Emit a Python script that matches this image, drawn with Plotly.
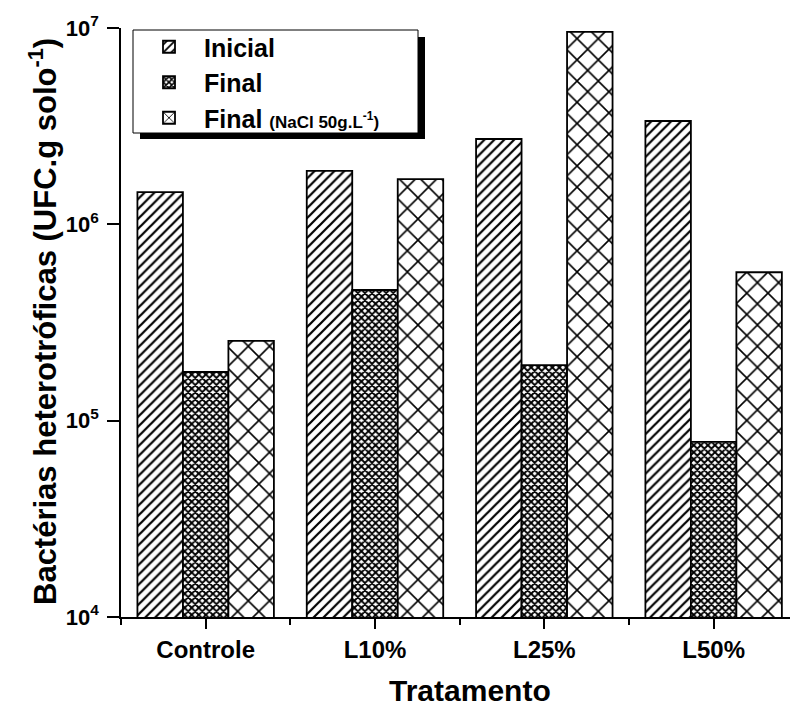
import plotly.graph_objects as go

# Heterotrophic bacteria counts (UFC per g of soil) by treatment
categories = ["Controle", "L10%", "L25%", "L50%"]
inicial = [1.46e6, 1.87e6, 2.72e6, 3.36e6]
final = [1.77e5, 4.63e5, 1.92e5, 7.8e4]
final_nacl = [2.55e5, 1.70e6, 9.55e6, 5.7e5]

y_tickvals = [1e4, 1e5, 1e6, 1e7]
y_ticktext = ["10<sup>4</sup>", "10<sup>5</sup>", "10<sup>6</sup>", "10<sup>7</sup>"]

W, H = 792, 711
L, R, T, B = 121, 2, 28, 94
PW, PH = W - L - R, H - T - B

FONT = "Liberation Sans, Arial, sans-serif"
xpos = list(range(len(categories)))


def px_x(p):
    return (p - L) / PW


def px_y(p):
    return (H - B - p) / PH


line = dict(color="black", width=1.8)
fig = go.Figure()
fig.add_trace(go.Bar(
    x=xpos, y=inicial, name="Inicial",
    marker=dict(color="white", line=line,
                pattern=dict(shape="/", size=7, solidity=0.32,
                             fgcolor="black", bgcolor="white", fillmode="replace")),
))
fig.add_trace(go.Bar(
    x=xpos, y=final, name="Final",
    marker=dict(color="white", line=line,
                pattern=dict(shape="x", size=5, solidity=0.62,
                             fgcolor="black", bgcolor="white", fillmode="replace")),
))
fig.add_trace(go.Bar(
    x=xpos, y=final_nacl,
    name="Final <span style='font-size:17px'>(NaCl 50g.L<sup>-1</sup>)</span>",
    marker=dict(color="white", line=line,
                pattern=dict(shape="x", size=15, solidity=0.2,
                             fgcolor="black", bgcolor="white", fillmode="replace")),
))

# legend frame with drop shadow
shapes = [
    dict(type="rect", xref="paper", yref="paper",
         x0=px_x(140), x1=px_x(425), y0=px_y(139), y1=px_y(37),
         fillcolor="black", line=dict(width=0), layer="above"),
    dict(type="rect", xref="paper", yref="paper",
         x0=px_x(133), x1=px_x(418), y0=px_y(133), y1=px_y(30),
         fillcolor="white", line=dict(color="black", width=1), layer="above"),
]

annotations = [
    dict(text="Bactérias heterotróficas (UFC.g solo<sup>-1</sup>)",
         xref="paper", yref="paper", x=px_x(43), y=px_y(322), textangle=-90,
         xanchor="center", yanchor="middle", showarrow=False,
         font=dict(family=FONT, size=31, color="black", weight="bold")),
    dict(text="Tratamento",
         xref="paper", yref="paper", x=px_x(470), y=px_y(690),
         xanchor="center", yanchor="middle", showarrow=False,
         font=dict(family=FONT, size=30, color="black", weight="bold")),
]

fig.update_layout(
    width=W, height=H,
    margin=dict(l=L, r=R, t=T, b=B, pad=0),
    paper_bgcolor="white", plot_bgcolor="white",
    barmode="group", bargap=0.194, bargroupgap=0,
    font=dict(family=FONT, color="black"),
    showlegend=True,
    legend=dict(x=px_x(134), y=px_y(24), xanchor="left", yanchor="top",
                bgcolor="rgba(0,0,0,0)", borderwidth=0, itemwidth=60,
                font=dict(family=FONT, size=25, color="black", weight="bold"),
                tracegroupgap=0),
    shapes=shapes,
    annotations=annotations,
)

fig.update_xaxes(
    range=[-0.5, 3.451], tickvals=xpos, ticktext=categories,
    showline=True, linecolor="black", linewidth=1.8,
    ticks="outside", ticklen=10, tickwidth=1.8, tickcolor="black",
    ticklabelstandoff=0,
    minor=dict(tickmode="array", tickvals=[i + 0.5 for i in range(-1, len(categories) - 1)],
               ticks="outside", ticklen=6, tickwidth=1.8, tickcolor="black"),
    showgrid=False, zeroline=False,
    tickfont=dict(family=FONT, size=24, color="black", weight="bold"),
)
fig.update_yaxes(
    type="log", range=[4, 7], tickvals=y_tickvals, ticktext=y_ticktext,
    showline=True, linecolor="black", linewidth=1.8,
    ticks="outside", ticklen=12, tickwidth=1.8, tickcolor="black",
    ticklabelstandoff=4,
    showgrid=False, zeroline=False,
    tickfont=dict(family=FONT, size=22, color="black", weight="bold"),
)

fig.write_html("out.html")
